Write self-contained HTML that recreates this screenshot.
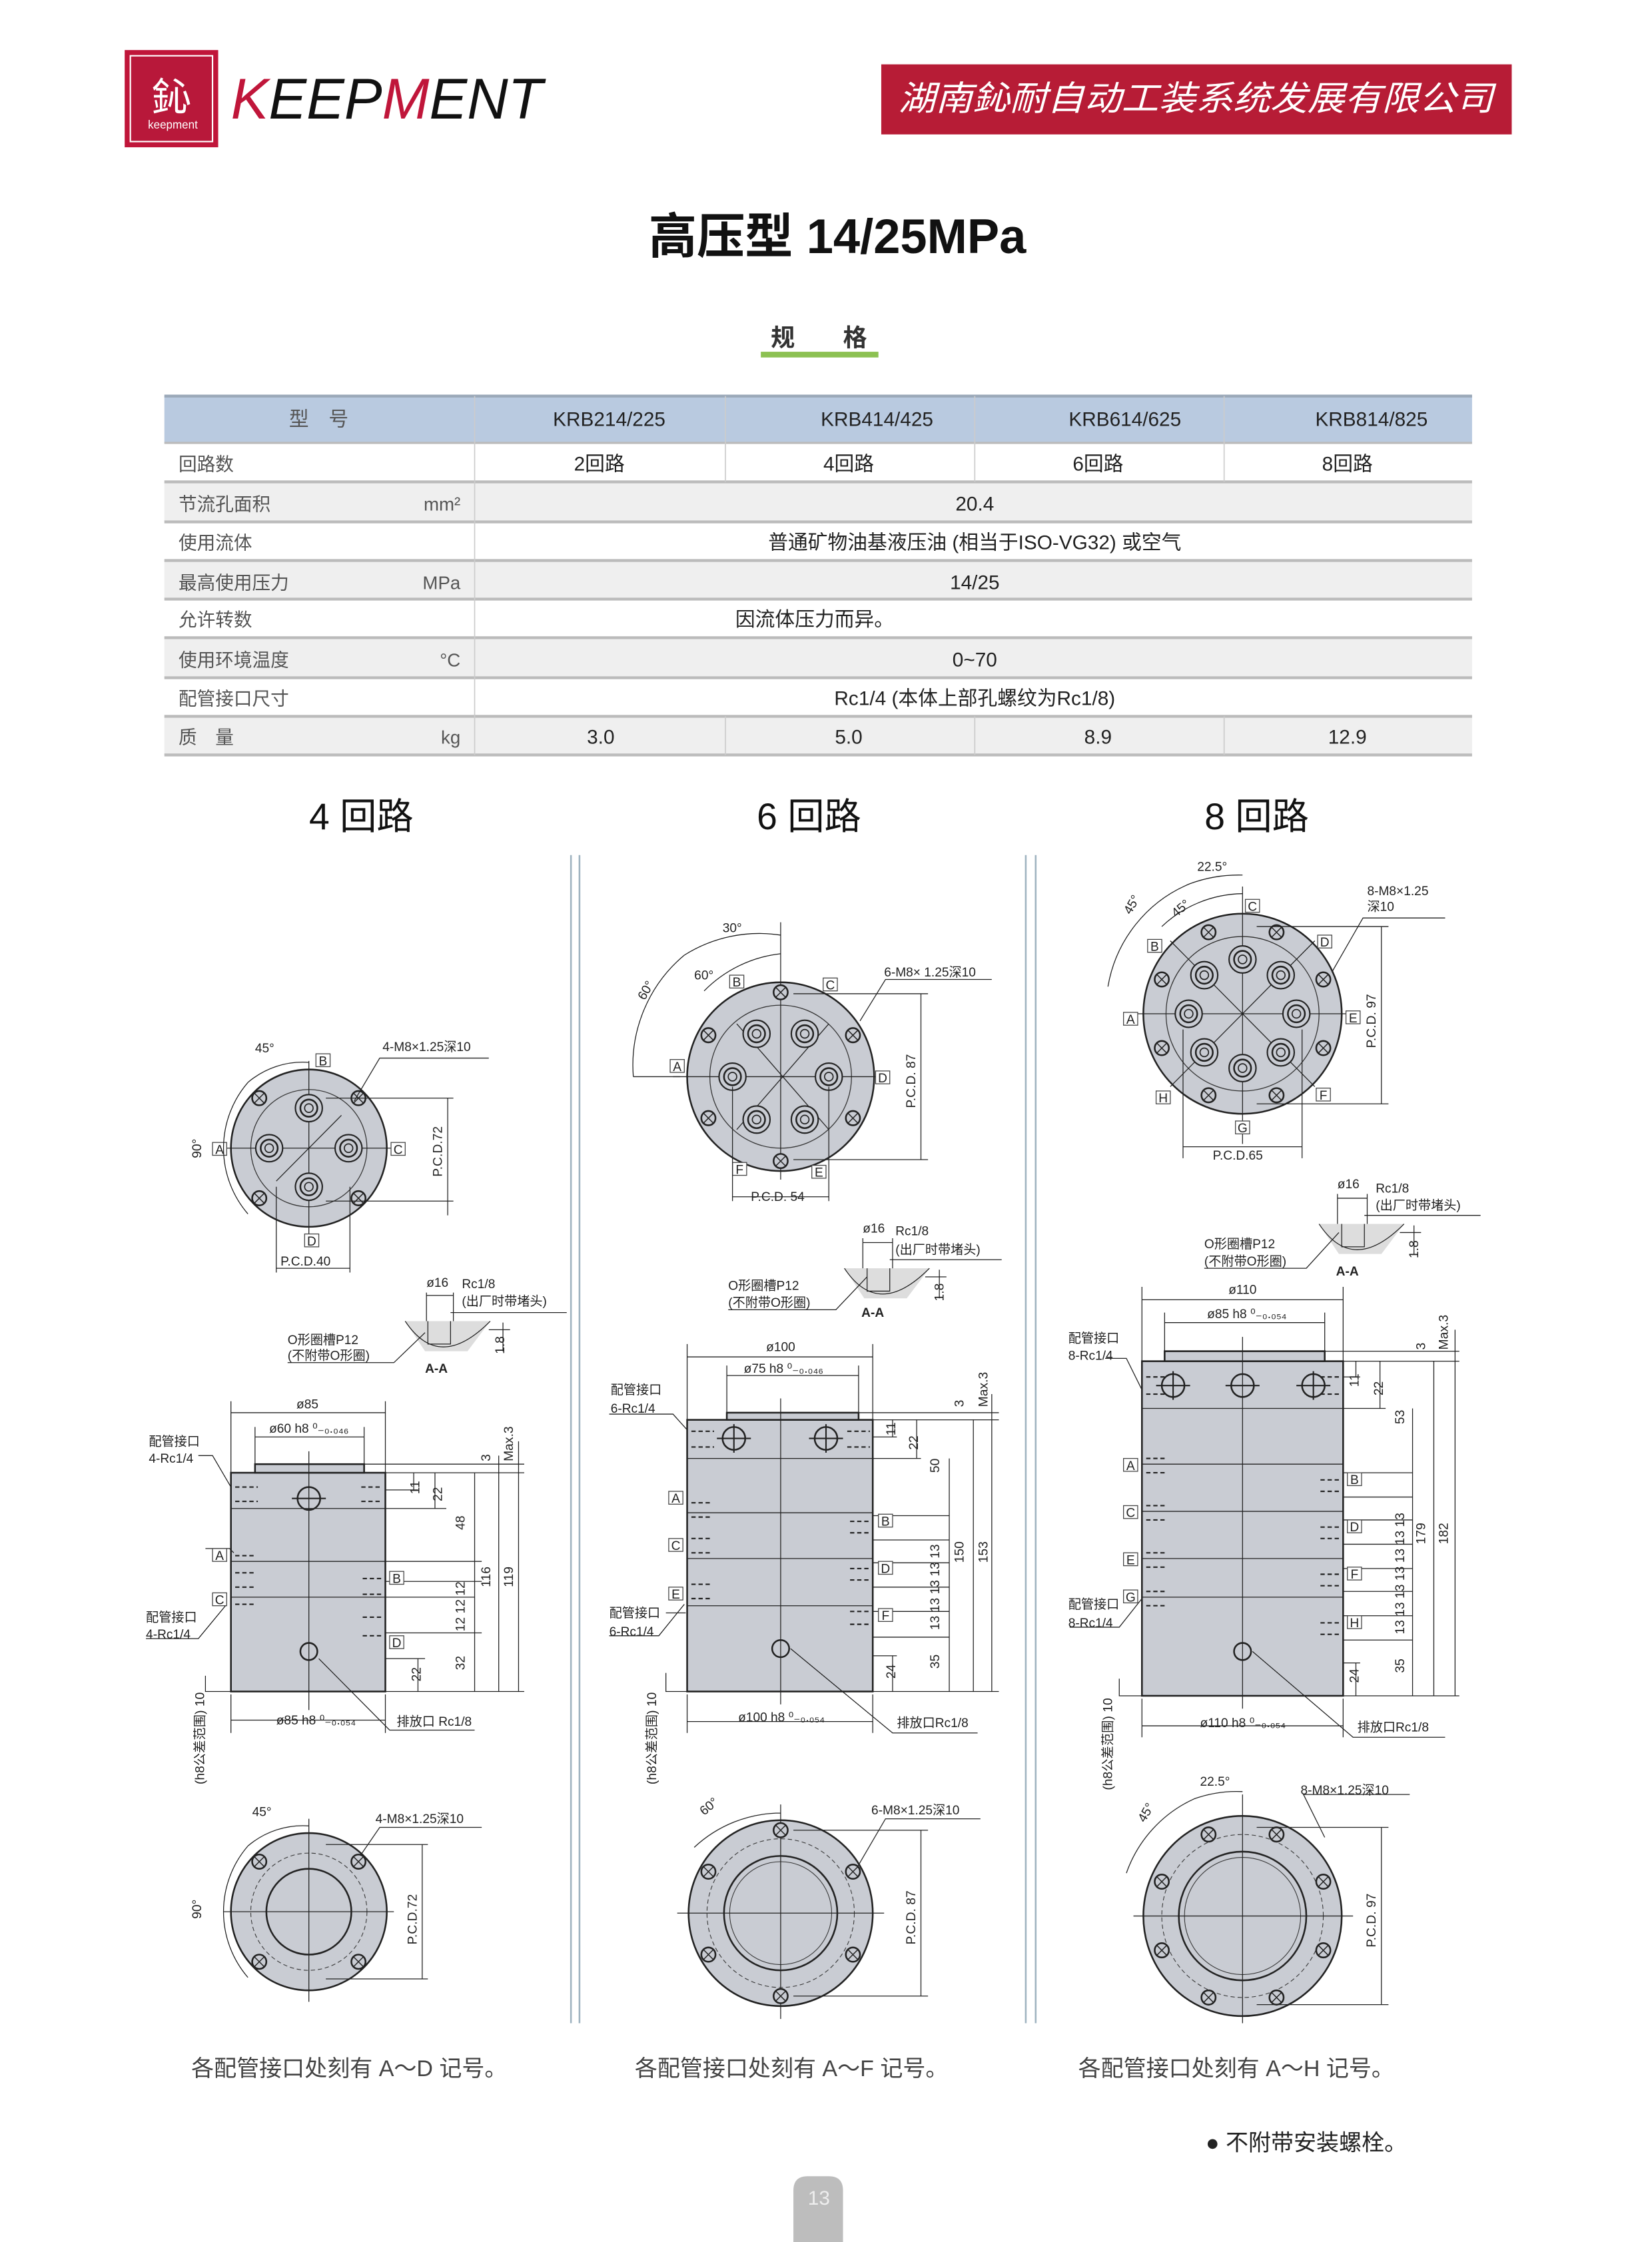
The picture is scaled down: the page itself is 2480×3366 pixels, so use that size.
<!DOCTYPE html>
<html><head><meta charset="utf-8"><style>
html,body{margin:0;padding:0;background:#fff}
svg{display:block}
text{font-family:"Liberation Sans","Noto Sans CJK SC",sans-serif}
.s{font-size:9px;fill:#222}
.d{stroke:#222;stroke-width:0.6;fill:none}
.b{fill:#c9ccd3;stroke:#222;stroke-width:1.2}
.t{font-size:14px;fill:#333}
</style></head><body>
<svg width="2480" height="3366" viewBox="0 0 1166 1568" preserveAspectRatio="none" xmlns="http://www.w3.org/2000/svg">
<defs>
<g id="port"><circle r="9.5" fill="#c9ccd3" stroke="#222" stroke-width="1"/><circle r="6" fill="none" stroke="#222" stroke-width="1.2"/><circle r="3" fill="none" stroke="#222" stroke-width="0.8"/></g>
<g id="bolt"><circle r="5" fill="#c9ccd3" stroke="#222" stroke-width="1.2"/><path d="M-3.5,-3.5L3.5,3.5M-3.5,3.5L3.5,-3.5" stroke="#222" stroke-width="0.7"/></g>
<g id="lbl"><rect x="-5" y="-5" width="10" height="9" fill="#fff" stroke="#444" stroke-width="0.6"/></g>
</defs>

<!-- header -->
<rect x="88" y="35" width="66" height="68" fill="#c0163a"/>
<rect x="92" y="39" width="58" height="60" fill="#b8183a" stroke="#fff" stroke-width="1"/>
<text x="121" y="78" font-size="28" fill="#fff" text-anchor="middle" font-family="Noto Sans CJK SC">鈊</text>
<text x="122" y="90" font-size="8" fill="#fff" text-anchor="middle">keepment</text>
<text x="163" y="83" font-size="40" font-style="italic" fill="#111" textLength="220" lengthAdjust="spacingAndGlyphs"><tspan fill="#c0163a">K</tspan>EEP<tspan fill="#c0163a">M</tspan>ENT</text>
<rect x="622" y="45" width="445" height="49" fill="#b71c36"/>
<text x="844" y="77" font-size="24" fill="#fff" font-style="italic" text-anchor="middle" textLength="420" lengthAdjust="spacingAndGlyphs" font-family="Noto Sans CJK SC">湖南鈊耐自动工装系统发展有限公司</text>

<text x="591" y="177" font-size="34" font-weight="bold" fill="#111" text-anchor="middle" font-family="Noto Sans CJK SC">高压型 14/25MPa</text>
<text x="578" y="242" font-size="17" font-weight="bold" fill="#333" text-anchor="middle" font-family="Noto Sans CJK SC">规　　格</text>
<rect x="537" y="246" width="83" height="4" fill="#8cc152"/>

<!-- table -->
<rect x="116" y="277" width="923" height="33" fill="#b9cae0"/>
<rect x="116" y="276" width="923" height="2" fill="#9aa8b8"/>
<rect x="116" y="337" width="923" height="28" fill="#efefef"/>
<rect x="116" y="392" width="923" height="27" fill="#efefef"/>
<rect x="116" y="446" width="923" height="28" fill="#efefef"/>
<rect x="116" y="501" width="923" height="27" fill="#efefef"/>
<g fill="#bbb">
<rect x="116" y="309" width="923" height="1.5"/><rect x="116" y="336" width="923" height="2"/><rect x="116" y="364" width="923" height="2"/><rect x="116" y="391" width="923" height="2"/><rect x="116" y="418" width="923" height="2"/><rect x="116" y="445" width="923" height="2"/><rect x="116" y="473" width="923" height="2"/><rect x="116" y="500" width="923" height="2"/><rect x="116" y="527" width="923" height="2"/>
</g>
<g stroke="#ccc" stroke-width="0.8">
<line x1="335" y1="277" x2="335" y2="528"/>
<line x1="512" y1="277" x2="512" y2="337"/><line x1="688" y1="277" x2="688" y2="337"/><line x1="864" y1="277" x2="864" y2="337"/>
<line x1="512" y1="501" x2="512" y2="528"/><line x1="688" y1="501" x2="688" y2="528"/><line x1="864" y1="501" x2="864" y2="528"/>
</g>
<g font-size="14" fill="#222" text-anchor="middle">
<text x="225" y="298" fill="#555">型　号</text>
<text x="430" y="298">KRB214/225</text><text x="619" y="298">KRB414/425</text><text x="794" y="298">KRB614/625</text><text x="968" y="298">KRB814/825</text>
<text x="423" y="329">2回路</text><text x="599" y="329">4回路</text><text x="775" y="329">6回路</text><text x="951" y="329">8回路</text>
<text x="688" y="357">20.4</text>
<text x="688" y="384">普通矿物油基液压油 (相当于ISO-VG32) 或空气</text>
<text x="688" y="412">14/25</text>
<text x="575" y="438">因流体压力而异。</text>
<text x="688" y="466">0~70</text>
<text x="688" y="493">Rc1/4 (本体上部孔螺纹为Rc1/8)</text>
<text x="424" y="520">3.0</text><text x="599" y="520">5.0</text><text x="775" y="520">8.9</text><text x="951" y="520">12.9</text>
</g>
<g font-size="13" fill="#555">
<text x="126" y="329">回路数</text><text x="126" y="357">节流孔面积</text><text x="126" y="384">使用流体</text><text x="126" y="412">最高使用压力</text><text x="126" y="438">允许转数</text><text x="126" y="466">使用环境温度</text><text x="126" y="493">配管接口尺寸</text><text x="126" y="520">质　量</text>
<text x="325" y="357" text-anchor="end">mm²</text><text x="325" y="412" text-anchor="end">MPa</text><text x="325" y="466" text-anchor="end">°C</text><text x="325" y="520" text-anchor="end">kg</text>
</g>

<!-- section titles -->
<g font-size="26" fill="#111" text-anchor="middle" font-family="Noto Sans CJK SC">
<text x="255" y="580">4 回路</text><text x="571" y="580">6 回路</text><text x="887" y="580">8 回路</text>
</g>
<!-- separators -->
<g stroke="#9fb3c0" stroke-width="1.2">
<line x1="403" y1="598" x2="403" y2="1415"/><line x1="409" y1="598" x2="409" y2="1415"/>
<line x1="724" y1="598" x2="724" y2="1415"/><line x1="731" y1="598" x2="731" y2="1415"/>
</g>

<!-- ===== COLUMN 1 ===== -->
<circle cx="218" cy="803" r="55" class="b"/>
<circle cx="218" cy="803" r="41" fill="none" stroke="#333" stroke-width="0.6"/>
<path class="d" d="M218,742V870M158,803H278M195,826L241,780"/>
<use href="#port" x="218" y="775"/><use href="#port" x="190" y="803"/><use href="#port" x="246" y="803"/><use href="#port" x="218" y="830"/>
<use href="#bolt" x="183" y="768"/><use href="#bolt" x="253" y="768"/><use href="#bolt" x="183" y="838"/><use href="#bolt" x="253" y="838"/>
<use href="#lbl" x="228" y="742"/><use href="#lbl" x="155" y="804"/><use href="#lbl" x="281" y="804"/><use href="#lbl" x="220" y="868"/>
<g class="s" text-anchor="middle" font-size="7"><text x="228" y="745">B</text><text x="155" y="807">A</text><text x="281" y="807">C</text><text x="220" y="871">D</text></g>
<path class="d" d="M218,743A60,60 0 0 0 175,757M175,757A70,70 0 0 0 175,849M250,770L268,740H345M230,768H320M230,840H320M316,768V850M195,830V890M247,830V890M195,887H247"/>
<text class="s" x="180" y="736">45°</text>
<text class="s" transform="rotate(-90 142 810)" x="142" y="810">90°</text>
<text class="s" x="270" y="735">4-M8×1.25深10</text>
<text class="s" transform="rotate(-90 312 823)" x="312" y="823">P.C.D.72</text>
<text class="s" x="198" y="885">P.C.D.40</text>
<!-- AA -->
<path d="M286,924H346L330,945H300Z" fill="#ddd"/><path class="d" d="M286,924Q310,960 346,924M302,924V940H318V924M301,904V924M320,904V924M301,906H320M318,918H400M345,930H360M355,925V945"/>
<text class="s" x="301" y="900">ø16</text><text class="s" x="326" y="901">Rc1/8</text><text class="s" x="326" y="913">(出厂时带堵头)</text>
<text class="s" x="203" y="940">O形圈槽P12</text><text class="s" x="203" y="951">(不附带O形圈)</text>
<path class="d" d="M203,953H278L300,932"/>
<text class="s" x="300" y="960" font-weight="bold">A-A</text>
<text class="s" transform="rotate(-90 356 947)" x="356" y="947" font-size="8">1.8</text>
<!-- side -->
<rect x="163" y="1030" width="109" height="153" class="b"/>
<rect x="180" y="1024" width="77" height="6" class="b"/>
<path class="d" d="M163,1055H272M218,1015V1196M163,1092H340M163,1117H335M272,1106H340M272,1142H340"/>
<circle cx="218" cy="1048" r="8" fill="none" stroke="#222" stroke-width="1.2"/><line x1="206" y1="1048" x2="230" y2="1048" stroke="#222"/>
<circle cx="218" cy="1155" r="6" fill="none" stroke="#222" stroke-width="1.2"/>
<g stroke="#222" stroke-width="1" stroke-dasharray="3,2"><path d="M166,1040H182M166,1050H182M255,1040H270M255,1050H270M166,1088H180M166,1100H180M166,1110H180M166,1122H180M256,1104H270M256,1115H270M256,1131H270M256,1144H270"/></g>
<path class="d" d="M163,980V1030M272,980V1030M163,988H272M180,998V1024M257,998V1024M180,1005H257M272,1030H370M257,1024H370M272,1042H295M272,1055H315M272,1183H370M272,1160H300M292,1030V1042M307,1030V1055M335,1030V1183M352,1018V1183M366,1008V1183M295,1160V1183M163,1185V1212M272,1185V1212M163,1203H272M225,1160L275,1210H335M145,1083H162L165,1086M140,1018H150L163,1040M103,1146H140L160,1122M145,1172V1183H163"/>
<use href="#lbl" x="155" y="1088"/><use href="#lbl" x="155" y="1119"/><use href="#lbl" x="280" y="1104"/><use href="#lbl" x="280" y="1149"/>
<g class="s" text-anchor="middle" font-size="7"><text x="155" y="1091">A</text><text x="155" y="1122">C</text><text x="280" y="1107">B</text><text x="280" y="1152">D</text></g>
<text class="s" x="217" y="985" text-anchor="middle">ø85</text>
<text class="s" x="190" y="1002">ø60 h8 ⁰₋₀.₀₄₆</text>
<text class="s" x="105" y="1011">配管接口</text><text class="s" x="105" y="1023">4-Rc1/4</text>
<text class="s" x="103" y="1134">配管接口</text><text class="s" x="103" y="1146">4-Rc1/4</text>
<text class="s" x="195" y="1206">ø85 h8 ⁰₋₀.₀₅₄</text>
<text class="s" x="280" y="1207">排放口 Rc1/8</text>
<g class="s" font-size="8">
<text transform="rotate(-90 296 1045)" x="296" y="1045">11</text>
<text transform="rotate(-90 312 1050)" x="312" y="1050">22</text>
<text transform="rotate(-90 328 1070)" x="328" y="1070">48</text>
<text transform="rotate(-90 328 1141)" x="328" y="1141">12 12 12</text>
<text transform="rotate(-90 328 1168)" x="328" y="1168">32</text>
<text transform="rotate(-90 297 1176)" x="297" y="1176">22</text>
<text transform="rotate(-90 346 1110)" x="346" y="1110">116</text>
<text transform="rotate(-90 362 1110)" x="362" y="1110">119</text>
<text transform="rotate(-90 346 1022)" x="346" y="1022">3</text>
<text transform="rotate(-90 362 1022)" x="362" y="1022">Max.3</text>
<text transform="rotate(-90 144 1248)" x="144" y="1248">(h8公差范围) 10</text>
</g>
<!-- bottom view -->
<circle cx="218" cy="1337" r="55" class="b"/>
<circle cx="218" cy="1337" r="30" fill="none" stroke="#222" stroke-width="1.2"/>
<circle cx="218" cy="1337" r="41" fill="none" stroke="#333" stroke-width="0.5" stroke-dasharray="3,2"/>
<path class="d" d="M218,1272V1400M158,1337H278M218,1277A60,60 0 0 0 175,1291M175,1291A70,70 0 0 0 175,1383M250,1304L268,1278H340M230,1290H302M230,1384H302M298,1290V1384"/>
<use href="#bolt" x="183" y="1302"/><use href="#bolt" x="253" y="1302"/><use href="#bolt" x="183" y="1372"/><use href="#bolt" x="253" y="1372"/>
<text class="s" x="178" y="1270">45°</text>
<text class="s" transform="rotate(-90 142 1342)" x="142" y="1342">90°</text>
<text class="s" x="265" y="1275">4-M8×1.25深10</text>
<text class="s" transform="rotate(-90 294 1360)" x="294" y="1360">P.C.D.72</text>

<!-- ===== COLUMN 2 ===== -->
<circle cx="551" cy="753" r="66" class="b"/>
<circle cx="551" cy="753" r="50" fill="none" stroke="#333" stroke-width="0.6"/>
<path class="d" d="M551,645V825M475,753H625M520,790L585,716M520,716L585,790"/>
<use href="#port" x="517" y="753"/><use href="#port" x="585" y="753"/><use href="#port" x="534" y="723"/><use href="#port" x="568" y="723"/><use href="#port" x="534" y="783"/><use href="#port" x="568" y="783"/>
<use href="#bolt" x="551" y="694"/><use href="#bolt" x="551" y="812"/><use href="#bolt" x="500" y="724"/><use href="#bolt" x="602" y="724"/><use href="#bolt" x="500" y="782"/><use href="#bolt" x="602" y="782"/>
<use href="#lbl" x="520" y="687"/><use href="#lbl" x="586" y="689"/><use href="#lbl" x="478" y="746"/><use href="#lbl" x="623" y="754"/><use href="#lbl" x="522" y="818"/><use href="#lbl" x="578" y="820"/>
<g class="s" text-anchor="middle" font-size="7"><text x="520" y="690">B</text><text x="586" y="692">C</text><text x="478" y="749">A</text><text x="623" y="757">D</text><text x="522" y="821">F</text><text x="578" y="823">E</text></g>
<path class="d" d="M551,654A100,100 0 0 0 483,668M551,667A90,90 0 0 0 497,693M483,668A100,100 0 0 0 447,753M447,753H480M607,714L625,685H700M560,695H655M560,811H655M650,695V811M517,760V840M585,760V840M517,837H585"/>
<text class="s" x="510" y="652">30°</text><text class="s" x="490" y="685">60°</text><text class="s" transform="rotate(-60 455 700)" x="455" y="700">60°</text>
<text class="s" x="624" y="683">6-M8× 1.25深10</text>
<text class="s" transform="rotate(-90 646 775)" x="646" y="775">P.C.D. 87</text>
<text class="s" x="530" y="840">P.C.D. 54</text>
<!-- AA -->
<path d="M596,887H656L640,908H610Z" fill="#ddd"/><path class="d" d="M596,887Q620,923 656,887M612,887V903H628V887M609,866V887M630,866V887M609,869H630M628,881H707M653,893H668M663,888V908"/>
<text class="s" x="609" y="862">ø16</text><text class="s" x="632" y="864">Rc1/8</text><text class="s" x="632" y="877">(出厂时带堵头)</text>
<text class="s" x="514" y="902">O形圈槽P12</text><text class="s" x="514" y="914">(不附带O形圈)</text>
<path class="d" d="M514,916H590L612,893"/>
<text class="s" x="608" y="921" font-weight="bold">A-A</text>
<text class="s" transform="rotate(-90 666 910)" x="666" y="910" font-size="8">1.8</text>
<!-- side -->
<rect x="485" y="993" width="131" height="190" class="b"/>
<rect x="513" y="988" width="93" height="5" class="b"/>
<path class="d" d="M485,1020H616M551,978V1192M485,1058H616M485,1090H616M485,1123H616M616,1060H670M616,1077H670M616,1093H670M616,1110H670M616,1127H670M616,1145H670"/>
<circle cx="518" cy="1006" r="8" fill="none" stroke="#222" stroke-width="1.2"/><path d="M506,1006H530M518,996V1016" stroke="#222"/>
<circle cx="583" cy="1006" r="8" fill="none" stroke="#222" stroke-width="1.2"/><path d="M571,1006H595M583,996V1016" stroke="#222"/>
<circle cx="551" cy="1153" r="6" fill="none" stroke="#222" stroke-width="1.2"/>
<g stroke="#222" stroke-width="1" stroke-dasharray="3,2"><path d="M488,1001H504M488,1012H504M598,1001H614M598,1012H614M488,1051H502M488,1061H502M488,1076H502M488,1086H502M488,1108H502M488,1118H502M600,1064H614M600,1072H614M600,1097H614M600,1105H614M600,1127H614M600,1136H614"/></g>
<path class="d" d="M485,940V993M616,940V993M485,949H616M513,955V988M606,955V988M513,962H606M616,993H705M606,988H705M616,1005H633M616,1020H650M616,1183H705M616,1158H633M630,993V1005M647,993V1020M670,1020V1183M687,993V1183M700,975V1183M630,1158V1183M485,1185V1212M616,1185V1212M485,1204H616M558,1153L630,1212H690M470,1128H484M430,989H475L485,1000M430,1144H465L483,1122M470,1170V1183H485"/>
<use href="#lbl" x="477" y="1048"/><use href="#lbl" x="477" y="1081"/><use href="#lbl" x="477" y="1115"/><use href="#lbl" x="625" y="1064"/><use href="#lbl" x="625" y="1097"/><use href="#lbl" x="625" y="1130"/>
<g class="s" text-anchor="middle" font-size="7"><text x="477" y="1051">A</text><text x="477" y="1084">C</text><text x="477" y="1118">E</text><text x="625" y="1067">B</text><text x="625" y="1100">D</text><text x="625" y="1133">F</text></g>
<text class="s" x="551" y="945" text-anchor="middle">ø100</text>
<text class="s" x="525" y="960">ø75 h8 ⁰₋₀.₀₄₆</text>
<text class="s" x="431" y="975">配管接口</text><text class="s" x="431" y="988">6-Rc1/4</text>
<text class="s" x="430" y="1131">配管接口</text><text class="s" x="430" y="1144">6-Rc1/4</text>
<text class="s" x="521" y="1204">ø100 h8 ⁰₋₀.₀₅₄</text>
<text class="s" x="633" y="1208">排放口Rc1/8</text>
<g class="s" font-size="8">
<text transform="rotate(-90 632 1004)" x="632" y="1004">11</text>
<text transform="rotate(-90 648 1014)" x="648" y="1014">22</text>
<text transform="rotate(-90 663 1030)" x="663" y="1030">50</text>
<text transform="rotate(-90 663 1140)" x="663" y="1140">13 13 13 13 13</text>
<text transform="rotate(-90 663 1167)" x="663" y="1167">35</text>
<text transform="rotate(-90 632 1174)" x="632" y="1174">24</text>
<text transform="rotate(-90 680 1093)" x="680" y="1093">150</text>
<text transform="rotate(-90 697 1093)" x="697" y="1093">153</text>
<text transform="rotate(-90 680 984)" x="680" y="984">3</text>
<text transform="rotate(-90 697 984)" x="697" y="984">Max.3</text>
<text transform="rotate(-90 463 1248)" x="463" y="1248">(h8公差范围) 10</text>
</g>
<!-- bottom -->
<circle cx="551" cy="1338" r="65" class="b"/>
<circle cx="551" cy="1338" r="40" fill="none" stroke="#222" stroke-width="1.2"/>
<circle cx="551" cy="1338" r="36" fill="none" stroke="#333" stroke-width="0.5"/>
<circle cx="551" cy="1338" r="52" fill="none" stroke="#333" stroke-width="0.5" stroke-dasharray="3,2"/>
<path class="d" d="M551,1262V1412M478,1338H624M551,1268A90,90 0 0 0 490,1292M605,1306L625,1272H692M560,1280H655M560,1396H655M650,1280V1396"/>
<use href="#bolt" x="551" y="1280"/><use href="#bolt" x="551" y="1396"/><use href="#bolt" x="500" y="1309"/><use href="#bolt" x="602" y="1309"/><use href="#bolt" x="500" y="1367"/><use href="#bolt" x="602" y="1367"/>
<text class="s" transform="rotate(-40 497 1270)" x="497" y="1270">60°</text>
<text class="s" x="615" y="1269">6-M8×1.25深10</text>
<text class="s" transform="rotate(-90 646 1360)" x="646" y="1360">P.C.D. 87</text>

<!-- ===== COLUMN 3 ===== -->
<circle cx="877" cy="709" r="70" class="b"/>
<circle cx="877" cy="709" r="54" fill="none" stroke="#333" stroke-width="0.6"/>
<path class="d" d="M877,620V800M800,709H955M826,760L928,658M826,658L928,760"/>
<use href="#port" x="877" y="671"/><use href="#port" x="877" y="747"/><use href="#port" x="839" y="709"/><use href="#port" x="915" y="709"/><use href="#port" x="850" y="682"/><use href="#port" x="904" y="682"/><use href="#port" x="850" y="736"/><use href="#port" x="904" y="736"/>
<use href="#bolt" x="853" y="652"/><use href="#bolt" x="901" y="652"/><use href="#bolt" x="853" y="766"/><use href="#bolt" x="901" y="766"/><use href="#bolt" x="820" y="685"/><use href="#bolt" x="934" y="685"/><use href="#bolt" x="820" y="733"/><use href="#bolt" x="934" y="733"/>
<use href="#lbl" x="884" y="634"/><use href="#lbl" x="815" y="662"/><use href="#lbl" x="935" y="659"/><use href="#lbl" x="798" y="713"/><use href="#lbl" x="955" y="712"/><use href="#lbl" x="821" y="768"/><use href="#lbl" x="934" y="766"/><use href="#lbl" x="877" y="789"/>
<g class="s" text-anchor="middle" font-size="7"><text x="884" y="637">C</text><text x="815" y="665">B</text><text x="935" y="662">D</text><text x="798" y="716">A</text><text x="955" y="715">E</text><text x="821" y="771">H</text><text x="934" y="769">F</text><text x="877" y="792">G</text></g>
<path class="d" d="M877,612A100,100 0 0 0 840,618M840,618A95,95 0 0 0 782,690M877,625A85,85 0 0 0 820,648M940,680L962,642H1020M887,648H980M887,772H980M975,648V772M835,720V810M919,720V810M835,802H919"/>
<text class="s" x="845" y="609">22.5°</text><text class="s" transform="rotate(-60 798 640)" x="798" y="640">45°</text><text class="s" transform="rotate(-40 830 642)" x="830" y="642">45°</text>
<text class="s" x="965" y="626">8-M8×1.25</text><text class="s" x="965" y="637">深10</text>
<text class="s" transform="rotate(-90 971 733)" x="971" y="733">P.C.D. 97</text>
<text class="s" x="856" y="811">P.C.D.65</text>
<!-- AA -->
<path d="M931,856H991L975,877H945Z" fill="#ddd"/><path class="d" d="M931,856Q955,892 991,856M947,856V872H963V856M944,835V856M965,835V856M944,838H965M963,850H1045M988,862H1003M998,857V877"/>
<text class="s" x="944" y="831">ø16</text><text class="s" x="971" y="834">Rc1/8</text><text class="s" x="971" y="846">(出厂时带堵头)</text>
<text class="s" x="850" y="873">O形圈槽P12</text><text class="s" x="850" y="885">(不附带O形圈)</text>
<path class="d" d="M850,887H922L945,862"/>
<text class="s" x="943" y="892" font-weight="bold">A-A</text>
<text class="s" transform="rotate(-90 1001 880)" x="1001" y="880" font-size="8">1.8</text>
<!-- side -->
<rect x="806" y="952" width="142" height="234" class="b"/>
<rect x="822" y="945" width="113" height="7" class="b"/>
<path class="d" d="M806,985H948M877,935V1195M806,1024H948M806,1057H948M806,1090H948M806,1117H948M948,1030H997M948,1047H997M948,1063H997M948,1080H997M948,1097H997M948,1113H997M948,1130H997M948,1147H997"/>
<circle cx="828" cy="969" r="8" fill="none" stroke="#222" stroke-width="1.2"/><path d="M816,969H840M828,959V979" stroke="#222"/>
<circle cx="877" cy="969" r="8" fill="none" stroke="#222" stroke-width="1.2"/><path d="M865,969H889" stroke="#222"/>
<circle cx="927" cy="969" r="8" fill="none" stroke="#222" stroke-width="1.2"/><path d="M915,969H939M927,959V979" stroke="#222"/>
<circle cx="877" cy="1155" r="6" fill="none" stroke="#222" stroke-width="1.2"/>
<g stroke="#222" stroke-width="1" stroke-dasharray="3,2"><path d="M809,963H822M809,975H822M932,963H946M932,975H946M809,1020H822M809,1030H822M809,1053H822M809,1063H822M809,1086H822M809,1096H822M809,1113H822M809,1123H822M932,1035H946M932,1043H946M932,1068H946M932,1076H946M932,1101H946M932,1109H946M932,1135H946M932,1143H946"/></g>
<path class="d" d="M806,900V952M948,900V952M806,909H948M822,918V945M935,918V945M822,925H935M948,952H1030M935,945H1030M948,963H960M948,985H978M948,1186H1030M948,1163H960M957,952V963M974,952V985M997,985V1186M1012,952V1186M1027,930V1186M957,1163V1186M806,1188V1215M948,1188V1215M806,1207H948M884,1155L955,1215H1020M780,950H795L806,972M755,1138H790L806,1118M790,1174V1186H806"/>
<use href="#lbl" x="798" y="1025"/><use href="#lbl" x="798" y="1058"/><use href="#lbl" x="798" y="1091"/><use href="#lbl" x="798" y="1117"/><use href="#lbl" x="956" y="1035"/><use href="#lbl" x="956" y="1068"/><use href="#lbl" x="956" y="1101"/><use href="#lbl" x="956" y="1135"/>
<g class="s" text-anchor="middle" font-size="7"><text x="798" y="1028">A</text><text x="798" y="1061">C</text><text x="798" y="1094">E</text><text x="798" y="1120">G</text><text x="956" y="1038">B</text><text x="956" y="1071">D</text><text x="956" y="1104">F</text><text x="956" y="1138">H</text></g>
<text class="s" x="877" y="905" text-anchor="middle">ø110</text>
<text class="s" x="852" y="922">ø85 h8 ⁰₋₀.₀₅₄</text>
<text class="s" x="754" y="939">配管接口</text><text class="s" x="754" y="951">8-Rc1/4</text>
<text class="s" x="754" y="1125">配管接口</text><text class="s" x="754" y="1138">8-Rc1/4</text>
<text class="s" x="847" y="1208">ø110 h8 ⁰₋₀.₀₅₄</text>
<text class="s" x="958" y="1211">排放口Rc1/8</text>
<g class="s" font-size="8">
<text transform="rotate(-90 959 970)" x="959" y="970">11</text>
<text transform="rotate(-90 976 976)" x="976" y="976">22</text>
<text transform="rotate(-90 991 996)" x="991" y="996">53</text>
<text transform="rotate(-90 991 1143)" x="991" y="1143">13 13 13 13 13 13 13</text>
<text transform="rotate(-90 991 1170)" x="991" y="1170">35</text>
<text transform="rotate(-90 959 1177)" x="959" y="1177">24</text>
<text transform="rotate(-90 1006 1080)" x="1006" y="1080">179</text>
<text transform="rotate(-90 1022 1080)" x="1022" y="1080">182</text>
<text transform="rotate(-90 1006 944)" x="1006" y="944">3</text>
<text transform="rotate(-90 1022 944)" x="1022" y="944">Max.3</text>
<text transform="rotate(-90 785 1252)" x="785" y="1252">(h8公差范围) 10</text>
</g>
<!-- bottom -->
<circle cx="877" cy="1340" r="70" class="b"/>
<circle cx="877" cy="1340" r="45" fill="none" stroke="#222" stroke-width="1.2"/>
<circle cx="877" cy="1340" r="41" fill="none" stroke="#333" stroke-width="0.5"/>
<circle cx="877" cy="1340" r="57" fill="none" stroke="#333" stroke-width="0.5" stroke-dasharray="3,2"/>
<path class="d" d="M877,1255V1415M800,1340H955M877,1253A90,90 0 0 0 843,1258M843,1258A90,90 0 0 0 795,1310M935,1285L920,1255H995M887,1278H980M887,1402H980M975,1278V1402"/>
<use href="#bolt" x="853" y="1283"/><use href="#bolt" x="901" y="1283"/><use href="#bolt" x="853" y="1397"/><use href="#bolt" x="901" y="1397"/><use href="#bolt" x="820" y="1316"/><use href="#bolt" x="934" y="1316"/><use href="#bolt" x="820" y="1364"/><use href="#bolt" x="934" y="1364"/>
<text class="s" x="847" y="1249">22.5°</text><text class="s" transform="rotate(-60 808 1275)" x="808" y="1275">45°</text>
<text class="s" x="918" y="1255">8-M8×1.25深10</text>
<text class="s" transform="rotate(-90 971 1362)" x="971" y="1362">P.C.D. 97</text>

<!-- captions -->
<g font-size="16" fill="#444">
<text x="135" y="1452">各配管接口处刻有 A～D 记号。</text>
<text x="448" y="1452">各配管接口处刻有 A～F 记号。</text>
<text x="761" y="1452">各配管接口处刻有 A～H 记号。</text>
<text x="851" y="1504" fill="#222">● 不附带安装螺栓。</text>
</g>
<!-- page number -->
<path d="M560,1568V1532Q560,1522 570,1522H585Q595,1522 595,1532V1568Z" fill="#bdbdbd"/>
<text x="578" y="1542" font-size="14" fill="#eee" text-anchor="middle">13</text>
</svg>
</body></html>
